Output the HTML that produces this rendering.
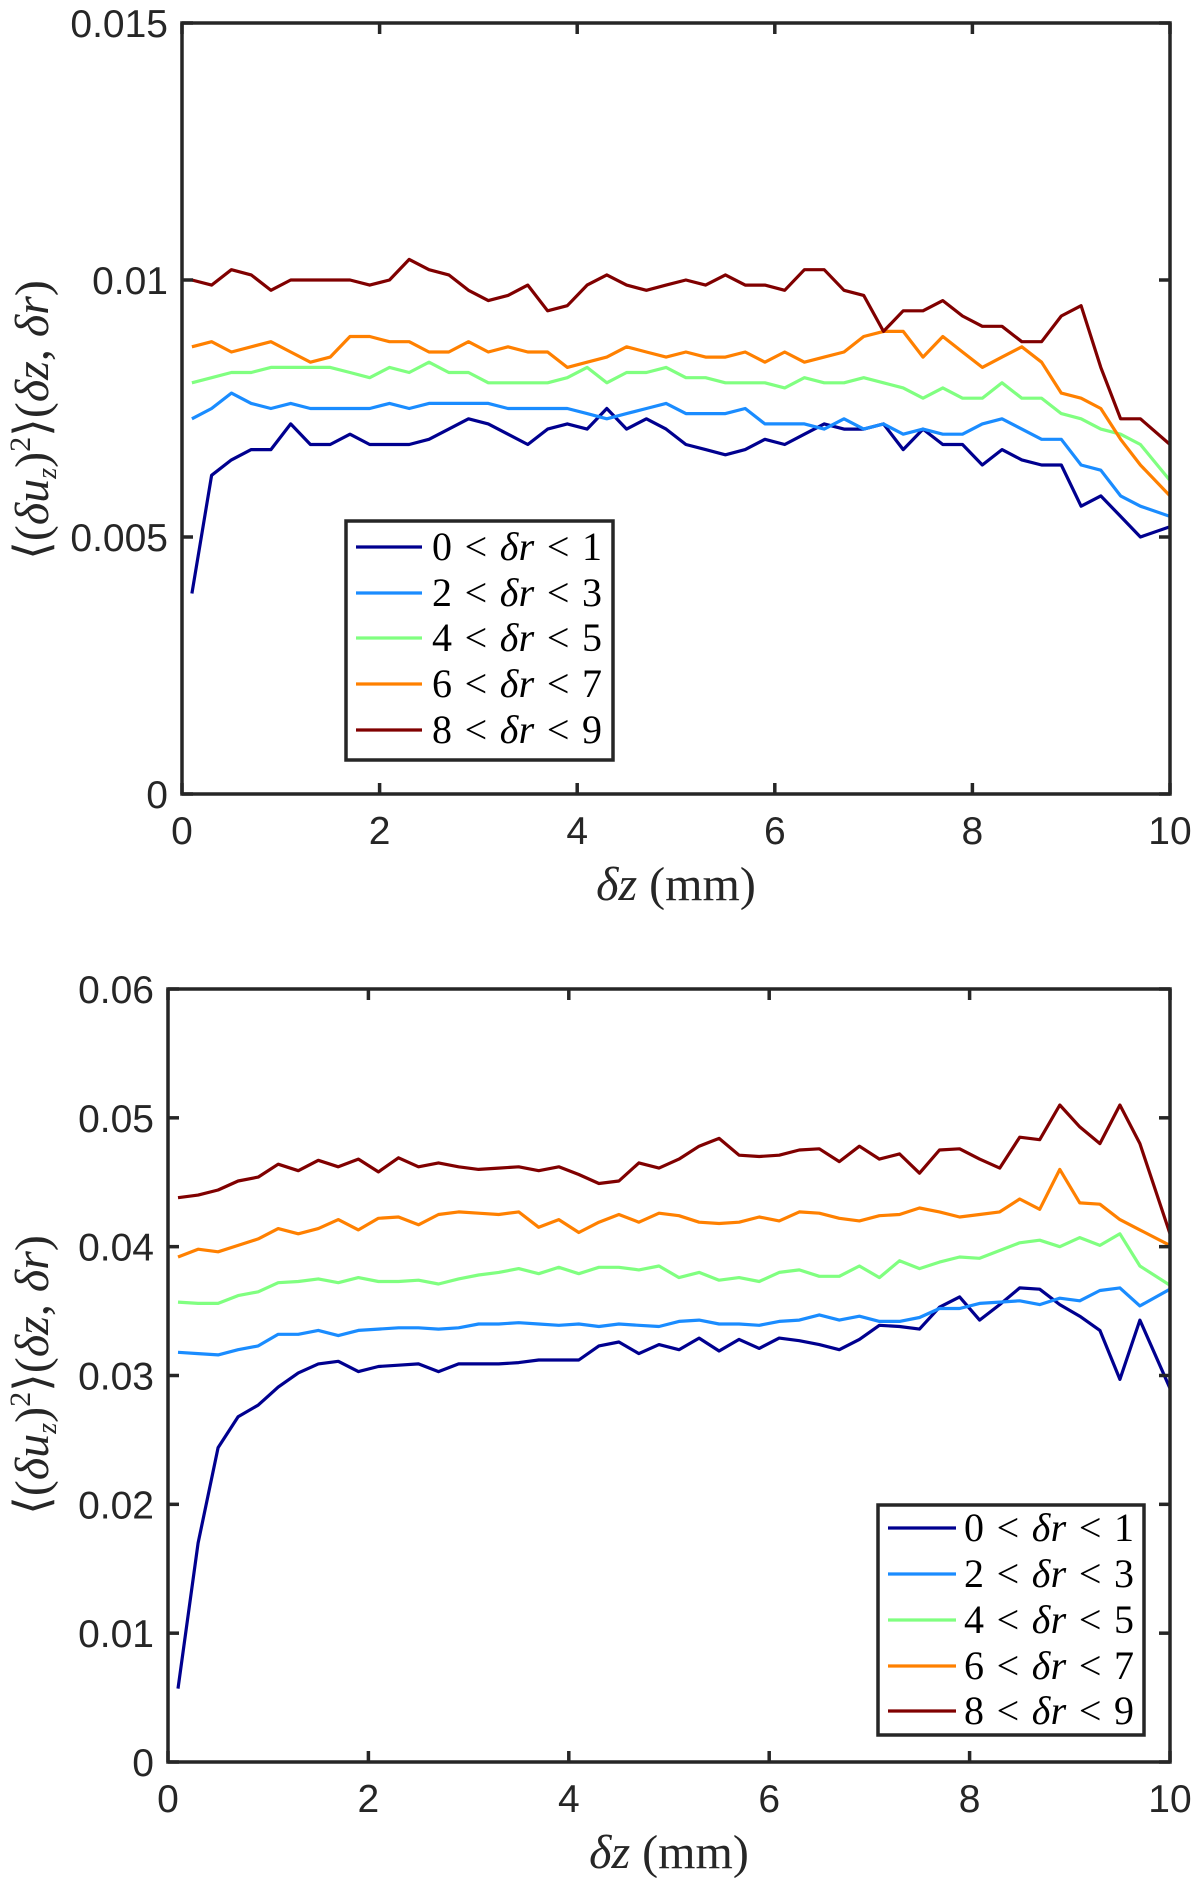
<!DOCTYPE html>
<html><head><meta charset="utf-8">
<style>
html,body{margin:0;padding:0;background:#fff;}
svg{display:block;}
.tick{font-family:"Liberation Sans",sans-serif;font-size:39px;fill:#262626;}
.lab{font-family:"Liberation Serif","DejaVu Serif",serif;font-size:48px;fill:#262626;}
.leg{font-family:"Liberation Serif","DejaVu Serif",serif;font-size:40px;fill:#000;word-spacing:2px;}
</style></head>
<body>
<svg id="fig" width="1200" height="1888" viewBox="0 0 1200 1888" xmlns="http://www.w3.org/2000/svg"></svg>
<script>
const xs = [];
for (let i = 0; i < 49; i++) xs.push(+(0.1 + 0.2 * i).toFixed(2));
xs.push(10);
const seriesLabels = ["0 < δr < 1","2 < δr < 3","4 < δr < 5","6 < δr < 7","8 < δr < 9"];
const topXTicks = [0,2,4,6,8,10];
const topYTicks = [0,0.005,0.01,0.015];
const topYTickLabels = ["0","0.005","0.01","0.015"];
const botYTicks = [0,0.01,0.02,0.03,0.04,0.05,0.06];
const botYTickLabels = ["0","0.01","0.02","0.03","0.04","0.05","0.06"];
const top_r0 = [0.0039,0.0062,0.0065,0.0067,0.0067,0.0072,0.0068,0.0068,0.0070,0.0068,0.0068,0.0068,0.0069,0.0071,0.0073,0.0072,0.0070,0.0068,0.0071,0.0072,0.0071,0.0075,0.0071,0.0073,0.0071,0.0068,0.0067,0.0066,0.0067,0.0069,0.0068,0.0070,0.0072,0.0071,0.0071,0.0072,0.0067,0.0071,0.0068,0.0068,0.0064,0.0067,0.0065,0.0064,0.0064,0.0056,0.0058,0.0054,0.0050,0.0052];
const top_r2 = [0.0073,0.0075,0.0078,0.0076,0.0075,0.0076,0.0075,0.0075,0.0075,0.0075,0.0076,0.0075,0.0076,0.0076,0.0076,0.0076,0.0075,0.0075,0.0075,0.0075,0.0074,0.0073,0.0074,0.0075,0.0076,0.0074,0.0074,0.0074,0.0075,0.0072,0.0072,0.0072,0.0071,0.0073,0.0071,0.0072,0.0070,0.0071,0.0070,0.0070,0.0072,0.0073,0.0071,0.0069,0.0069,0.0064,0.0063,0.0058,0.0056,0.0054];
const top_r4 = [0.0080,0.0081,0.0082,0.0082,0.0083,0.0083,0.0083,0.0083,0.0082,0.0081,0.0083,0.0082,0.0084,0.0082,0.0082,0.0080,0.0080,0.0080,0.0080,0.0081,0.0083,0.0080,0.0082,0.0082,0.0083,0.0081,0.0081,0.0080,0.0080,0.0080,0.0079,0.0081,0.0080,0.0080,0.0081,0.0080,0.0079,0.0077,0.0079,0.0077,0.0077,0.0080,0.0077,0.0077,0.0074,0.0073,0.0071,0.0070,0.0068,0.0061];
const top_r6 = [0.0087,0.0088,0.0086,0.0087,0.0088,0.0086,0.0084,0.0085,0.0089,0.0089,0.0088,0.0088,0.0086,0.0086,0.0088,0.0086,0.0087,0.0086,0.0086,0.0083,0.0084,0.0085,0.0087,0.0086,0.0085,0.0086,0.0085,0.0085,0.0086,0.0084,0.0086,0.0084,0.0085,0.0086,0.0089,0.0090,0.0090,0.0085,0.0089,0.0086,0.0083,0.0085,0.0087,0.0084,0.0078,0.0077,0.0075,0.0069,0.0064,0.0058];
const top_r8 = [0.0100,0.0099,0.0102,0.0101,0.0098,0.0100,0.0100,0.0100,0.0100,0.0099,0.0100,0.0104,0.0102,0.0101,0.0098,0.0096,0.0097,0.0099,0.0094,0.0095,0.0099,0.0101,0.0099,0.0098,0.0099,0.0100,0.0099,0.0101,0.0099,0.0099,0.0098,0.0102,0.0102,0.0098,0.0097,0.0090,0.0094,0.0094,0.0096,0.0093,0.0091,0.0091,0.0088,0.0088,0.0093,0.0095,0.0083,0.0073,0.0073,0.0068];
const bot_r0 = [0.0057,0.0170,0.0244,0.0268,0.0277,0.0291,0.0302,0.0309,0.0311,0.0303,0.0307,0.0308,0.0309,0.0303,0.0309,0.0309,0.0309,0.0310,0.0312,0.0312,0.0312,0.0323,0.0326,0.0317,0.0324,0.0320,0.0329,0.0319,0.0328,0.0321,0.0329,0.0327,0.0324,0.0320,0.0328,0.0339,0.0338,0.0336,0.0353,0.0361,0.0343,0.0355,0.0368,0.0367,0.0355,0.0346,0.0335,0.0297,0.0343,0.0290];
const bot_r2 = [0.0318,0.0317,0.0316,0.0320,0.0323,0.0332,0.0332,0.0335,0.0331,0.0335,0.0336,0.0337,0.0337,0.0336,0.0337,0.0340,0.0340,0.0341,0.0340,0.0339,0.0340,0.0338,0.0340,0.0339,0.0338,0.0342,0.0343,0.0340,0.0340,0.0339,0.0342,0.0343,0.0347,0.0343,0.0346,0.0342,0.0342,0.0345,0.0352,0.0352,0.0356,0.0357,0.0358,0.0355,0.0360,0.0358,0.0366,0.0368,0.0354,0.0367];
const bot_r4 = [0.0357,0.0356,0.0356,0.0362,0.0365,0.0372,0.0373,0.0375,0.0372,0.0376,0.0373,0.0373,0.0374,0.0371,0.0375,0.0378,0.0380,0.0383,0.0379,0.0384,0.0379,0.0384,0.0384,0.0382,0.0385,0.0376,0.0380,0.0374,0.0376,0.0373,0.0380,0.0382,0.0377,0.0377,0.0385,0.0376,0.0389,0.0383,0.0388,0.0392,0.0391,0.0397,0.0403,0.0405,0.0400,0.0407,0.0401,0.0410,0.0385,0.0370];
const bot_r6 = [0.0392,0.0398,0.0396,0.0401,0.0406,0.0414,0.0410,0.0414,0.0421,0.0413,0.0422,0.0423,0.0417,0.0425,0.0427,0.0426,0.0425,0.0427,0.0415,0.0421,0.0411,0.0419,0.0425,0.0419,0.0426,0.0424,0.0419,0.0418,0.0419,0.0423,0.0420,0.0427,0.0426,0.0422,0.0420,0.0424,0.0425,0.0430,0.0427,0.0423,0.0425,0.0427,0.0437,0.0429,0.0460,0.0434,0.0433,0.0421,0.0413,0.0401];
const bot_r8 = [0.0438,0.0440,0.0444,0.0451,0.0454,0.0464,0.0459,0.0467,0.0462,0.0468,0.0458,0.0469,0.0462,0.0465,0.0462,0.0460,0.0461,0.0462,0.0459,0.0462,0.0456,0.0449,0.0451,0.0465,0.0461,0.0468,0.0478,0.0484,0.0471,0.0470,0.0471,0.0475,0.0476,0.0466,0.0478,0.0468,0.0472,0.0457,0.0475,0.0476,0.0468,0.0461,0.0485,0.0483,0.0510,0.0493,0.0480,0.0510,0.0480,0.0410];
const colors = ["#00008f","#1a8cff","#80ff80","#ff8000","#800000"];
const seriesNames = ["series-dr-0-1","series-dr-2-3","series-dr-4-5","series-dr-6-7","series-dr-8-9"];

const NS = "http://www.w3.org/2000/svg";
const svg = document.getElementById("fig");
function mk(tag, attrs, parent) {
  const e = document.createElementNS(NS, tag);
  for (const k in attrs) e.setAttribute(k, attrs[k]);
  (parent || svg).appendChild(e);
  return e;
}

function drawPlot(cfg) {
  const g = mk("g", {});
  
  
  const X = v => cfg.x0 + (v - 0) / 10 * (cfg.x1 - cfg.x0);
  const Y = v => cfg.y0 - (v / cfg.ymax) * (cfg.y0 - cfg.y1);
  const clip = mk("clipPath", {id: cfg.name + "-clip"}, g);
  mk("rect", {x: cfg.x0, y: cfg.y1, width: cfg.x1 - cfg.x0, height: cfg.y0 - cfg.y1}, clip);
  cfg.series.forEach((s, k) => {
    const pts = xs.map((x, i) => X(x).toFixed(1) + "," + Y(s[i]).toFixed(1)).join(" ");
    const pl = mk("polyline", {points: pts, fill: "none", stroke: colors[k], "stroke-width": 3.2, "stroke-linejoin": "round", "clip-path": "url(#" + cfg.name + "-clip)"}, g);
    
    
  });
  const box = mk("rect", {x: cfg.x0, y: cfg.y1, width: cfg.x1 - cfg.x0, height: cfg.y0 - cfg.y1, fill: "none", stroke: "#262626", "stroke-width": 3.5}, g);
  
  
  topXTicks.forEach(t => {
    const x = X(t);
    mk("line", {x1: x, x2: x, y1: cfg.y0, y2: cfg.y0 - 11, stroke: "#262626", "stroke-width": 3.5}, g);
    mk("line", {x1: x, x2: x, y1: cfg.y1, y2: cfg.y1 + 11, stroke: "#262626", "stroke-width": 3.5}, g);
    const tx = mk("text", {x: x, y: cfg.y0 + 50, "text-anchor": "middle", class: "tick"}, g);
    tx.textContent = String(t);
    
    
  });
  cfg.yticks.forEach((t, i) => {
    const y = Y(t);
    mk("line", {x1: cfg.x0, x2: cfg.x0 + 11, y1: y, y2: y, stroke: "#262626", "stroke-width": 3.5}, g);
    mk("line", {x1: cfg.x1, x2: cfg.x1 - 11, y1: y, y2: y, stroke: "#262626", "stroke-width": 3.5}, g);
    const ty = mk("text", {x: cfg.x0 - 14, y: y + 14, "text-anchor": "end", class: "tick"}, g);
    ty.textContent = cfg.ytickLabels[i];
    
    
  });
  const xl = mk("text", {x: (cfg.x0 + cfg.x1) / 2, y: cfg.xlabY, "text-anchor": "middle", class: "lab"}, g);
  xl.innerHTML = '<tspan font-style="italic">δz</tspan> (mm)';
  
  
  const yl = mk("text", {x: 0, y: 0, "text-anchor": "middle", class: "lab", transform: "translate(" + cfg.ylabX + "," + cfg.ylabY + ") rotate(-90)"}, g);
  yl.innerHTML = '⟨(<tspan font-style="italic">δu</tspan><tspan font-style="italic" font-size="28" dy="8">z</tspan><tspan dy="-8">)</tspan><tspan font-size="30" dy="-18">2</tspan><tspan dy="18">⟩(</tspan><tspan font-style="italic">δz</tspan>, <tspan font-style="italic">δr</tspan>)';
  
  
  const L = cfg.legend;
  const lg = mk("g", {}, g);
  
  
  mk("rect", {x: L.x, y: L.y, width: L.w, height: L.h, fill: "#fff", stroke: "#262626", "stroke-width": 3.5}, lg);
  seriesLabels.forEach((lab, k) => {
    const ry = L.rows[k];
    const ln = mk("line", {x1: L.lx0, x2: L.lx1, y1: ry, y2: ry, stroke: colors[k], "stroke-width": 3.2}, lg);
    
    
    const parts = lab.split(" ");
    const t = mk("text", {x: L.tx, y: ry + 13, class: "leg", textLength: L.tw, lengthAdjust: "spacing"}, lg);
    t.innerHTML = parts[0] + ' &lt; <tspan font-style="italic">δr</tspan> &lt; ' + parts[4];
    
    
  });
}

drawPlot({name: "top-chart", x0: 182, x1: 1170, y0: 794, y1: 23, ymax: 0.015,
  yticks: topYTicks, ytickLabels: topYTickLabels,
  series: [top_r0, top_r2, top_r4, top_r6, top_r8],
  xlabY: 900, ylabX: 48, ylabY: 420,
  legend: {x: 346, y: 521, w: 267, h: 239, rows: [547,593,638,684,730], lx0: 356, lx1: 422, tx: 432, tw: 170}});
drawPlot({name: "bottom-chart", x0: 168, x1: 1170, y0: 1762, y1: 989, ymax: 0.06,
  yticks: botYTicks, ytickLabels: botYTickLabels,
  series: [bot_r0, bot_r2, bot_r4, bot_r6, bot_r8],
  xlabY: 1868, ylabX: 48, ylabY: 1375,
  legend: {x: 878, y: 1505, w: 266, h: 230, rows: [1528,1574,1620,1666,1711], lx0: 888, lx1: 956, tx: 964, tw: 170}});
</script>
</body></html>
